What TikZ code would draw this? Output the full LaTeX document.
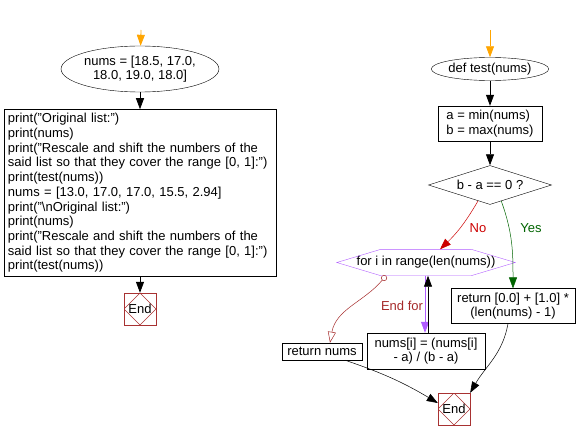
\documentclass[tikz,border=0pt]{standalone}
\usepackage{fontspec}
\setmainfont{Liberation Sans}
\usetikzlibrary{arrows.meta,shapes.geometric}

\definecolor{startorange}{HTML}{FFA500}
\definecolor{endred}{HTML}{A83232}
\definecolor{norred}{HTML}{CC0000}
\definecolor{yesgreen}{HTML}{006400}
\definecolor{loopviolet}{HTML}{B05CFF}
\definecolor{forbrown}{HTML}{A52A2A}

\begin{document}
\begin{tikzpicture}[x=1pt,y=-1pt,
    every node/.style={font=\fontsize{13}{14.7}\selectfont, inner sep=0pt},
    box/.style={draw, inner sep=4pt},
    oval/.style={draw, ellipse},
    endbox/.style={draw=endred, minimum size=32pt,
        path picture={\draw[endred] (path picture bounding box.north) -- (path picture bounding box.east)
            -- (path picture bounding box.south) -- (path picture bounding box.west) -- cycle;}},
    flow/.style={-{Triangle[width=8pt,length=11pt]}, line width=0.8pt},
]
    \useasboundingbox (0,0) rectangle (578,441);

    \coordinate (mainstart) at (141,30);
    \node[oval, minimum width=137pt, minimum height=46pt, align=center] (numsinit) at (140,69)
        {nums = [18.5, 17.0,\\18.0, 19.0, 18.0]};
    \node[box, text width=264pt, minimum height=166pt, align=left] (mainbody) at (140,193)
        {print("Original list:")\\
         print(nums)\\
         print("Rescale and shift the numbers of the\\
         said list so that they cover the range [0, 1]:")\\
         print(test(nums))\\
         nums = [13.0, 17.0, 17.0, 15.5, 2.94]\\
         print("\textbackslash nOriginal list:")\\
         print(nums)\\
         print("Rescale and shift the numbers of the\\
         said list so that they cover the range [0, 1]:")\\
         print(test(nums))};
    \node[endbox] (mainend) at (140,309) {End};

    \coordinate (teststart) at (490,30);
    \node[oval, minimum width=99pt, minimum height=23pt] (testdef) at (490,69) {def test(nums)};
    \node[box, minimum width=104pt, minimum height=35pt, align=left] (minmax) at (490,123.5)
        {a = min(nums)\\b = max(nums)};
    \node[draw, diamond, aspect=3.15, minimum width=123pt, minimum height=39pt] (check) at (490,185)
        {b - a == 0 ?};
    \node[minimum width=178pt, minimum height=26pt] (forloop) at (426,262.5)
        {for i in range(len(nums))};
    \draw[loopviolet] (forloop.west) -- ([xshift=44pt]forloop.north west) -- ([xshift=-44pt]forloop.north east)
        -- (forloop.east) -- ([xshift=-44pt]forloop.south east) -- ([xshift=44pt]forloop.south west) -- cycle;
    \node[box, minimum width=118pt, minimum height=36pt, align=center] (rescale) at (426,351)
        {nums[i] = (nums[i]\\- a) / (b - a)};
    \node[box, minimum width=80pt, minimum height=17pt] (retnums) at (322,351.5) {return nums};
    \node[box, minimum width=124pt, minimum height=32pt, align=center] (retzero) at (513,306)
        {return [0.0] + [1.0] *\\(len(nums) - 1)};
    \node[endbox] (testend) at (454,409) {End};

    \draw[flow, startorange] (mainstart) -- (numsinit);
    \draw[flow] (numsinit) -- (mainbody);
    \draw[flow] (mainbody) -- (mainend);

    \draw[flow, startorange] (teststart) -- (testdef);
    \draw[flow] (testdef) -- (minmax);
    \draw[flow] (minmax) -- (check);

    \draw[flow, norred, line width=0.5pt] (check.-127) to[bend left=8] ([xshift=14pt]forloop.north);
    \node[norred] (nolabel) at (478,228) {No};
    \draw[flow, yesgreen, line width=0.5pt] (check.-55) to[out=-70, in=90] (retzero.north);
    \node[yesgreen] (yeslabel) at (531,228) {Yes};

    \draw[flow, loopviolet] ([xshift=-1pt]forloop.south) -- ([xshift=-1pt]rescale.north);
    \draw[flow] ([xshift=2pt]rescale.north) -- ([xshift=2pt]forloop.south);
    \node[forbrown] (endforlabel) at (402,306) {End for};
    \draw[forbrown, line width=0.5pt, {Circle[open,length=6pt,width=6pt]}-{Triangle[open,width=8pt,length=11pt]}]
        ([xshift=-40pt]forloop.south) to[out=-130, in=80] ([xshift=8pt]retnums.north);

    \draw[flow, line width=0.5pt] ([xshift=23pt]retnums.south) to[bend left=6] ([yshift=6pt]testend.west);
    \draw[flow, line width=0.5pt] ([xshift=-5pt]retzero.south) to[out=-100, in=60] (testend.north east);
\end{tikzpicture}
\end{document}
